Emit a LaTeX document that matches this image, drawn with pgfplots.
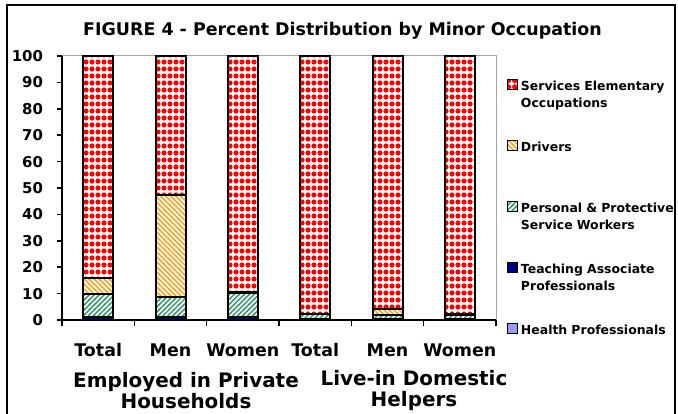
\documentclass[border=0pt]{standalone}
\usepackage{pgfplots}
\pgfplotsset{compat=1.18}
\usepackage{pgfplotstable}
\usepackage{fontspec}
\setmainfont{DejaVu Sans}
\usetikzlibrary{patterns}
\definecolor{cRed}{RGB}{255,0,0}
\definecolor{cOrange}{RGB}{255,160,20}
\definecolor{cGreen}{RGB}{51,150,102}
\definecolor{cNavy}{RGB}{0,0,128}
\definecolor{cLav}{RGB}{153,153,255}
\pgfdeclarepatternformonly{reddots}{\pgfqpoint{0pt}{0pt}}{\pgfqpoint{6.5pt}{6.5pt}}{\pgfqpoint{6.5pt}{6.5pt}}{%
  \pgfpathcircle{\pgfqpoint{3.25pt}{3.25pt}}{2.8pt}\pgfusepath{fill}}
\pgfdeclarepatternformonly{nwlines}{\pgfqpoint{-1pt}{-1pt}}{\pgfqpoint{6pt}{6pt}}{\pgfqpoint{5pt}{5pt}}{%
  \pgfsetlinewidth{1.4pt}\pgfpathmoveto{\pgfqpoint{-0.5pt}{5.5pt}}\pgfpathlineto{\pgfqpoint{5.5pt}{-0.5pt}}\pgfusepath{stroke}}
\pgfdeclarepatternformonly{nelines}{\pgfqpoint{-1pt}{-1pt}}{\pgfqpoint{6pt}{6pt}}{\pgfqpoint{5pt}{5pt}}{%
  \pgfsetlinewidth{1.4pt}\pgfpathmoveto{\pgfqpoint{-0.5pt}{-0.5pt}}\pgfpathlineto{\pgfqpoint{5.5pt}{5.5pt}}\pgfusepath{stroke}}
\pgfplotstableread{
x health teach personal drivers services
0 0.1 1.0 8.7 6.0 84.2
1 0.1 1.0 7.6 38.8 52.5
2 0.1 0.9 9.3 0.3 89.4
3 0.0 0.3 1.8 0.2 97.7
4 0.0 0.3 1.6 2.2 95.9
5 0.0 0.3 1.7 0.1 97.9
}\datatable
\begin{document}
\begin{tikzpicture}
\useasboundingbox (0bp,0bp) rectangle (678bp,414bp);
\draw[line width=2bp] (6.7bp,0bp) -- (6.7bp,409.3bp) -- (675bp,409.3bp) -- (675bp,0bp);
\begin{axis}[
  at={(62bp,94bp)}, anchor=south west,
  scale only axis, width=434bp, height=264bp,
  clip=false,
  ybar stacked, bar width=30bp,
  xmin=-0.5, xmax=5.5, ymin=0, ymax=100,
  axis line style={draw=none},
  tick align=outside,
  major tick length=5.5bp,
  xtick={-0.5,0.5,...,5.5}, xticklabels={},
  xtick pos=bottom, ytick pos=left,
  x tick style={line width=1.5bp, black},
  y tick style={line width=1.5bp, black},
  extra x ticks={0,1,2,3,4,5},
  extra x tick labels={Total,Men,Women,Total,Men,Women},
  extra x tick style={major tick length=0pt, tick style={draw=none}, xticklabel style={yshift=-20bp}},
  ytick={0,10,...,100},
  /pgf/number format/assume math mode=true,
  xticklabel style={font=\bfseries\fontsize{17.5}{20}\selectfont},
  yticklabel style={font=\bfseries\fontsize{15}{18}\selectfont, xshift=-10bp},
  legend image code/.code={\draw[#1, line width=1bp, draw=black] (0bp,1bp) rectangle (10bp,11bp);},
  reverse legend,
  legend cell align=left,
  legend style={at={(axis description cs:1.0253,0.9155)}, anchor=north west, draw=none, fill=none,
    inner sep=0pt, outer sep=0pt,
    font=\bfseries\fontsize{12.5}{17}\selectfont, row sep=9bp, column sep=3bp,
    cells={anchor=base west},
    nodes={inner sep=0pt, text width=160bp, align=left, text height=12bp, text depth=40bp}},
  every axis plot/.append style={draw=black, line width=2bp},
]
\addplot[fill=cLav] table[x=x, y=health] {\datatable};
\addlegendentry{Health Professionals}
\addplot[fill=cNavy] table[x=x, y=teach] {\datatable};
\addlegendentry{Teaching Associate\\Professionals}
\addplot[fill=white, postaction={pattern=nelines, pattern color=cGreen}] table[x=x, y=personal] {\datatable};
\addlegendentry{Personal \& Protective\\Service Workers}
\addplot[fill=white, postaction={pattern=nwlines, pattern color=cOrange}] table[x=x, y=drivers] {\datatable};
\addlegendentry{Drivers}
\addplot[fill=white, postaction={pattern=reddots, pattern color=cRed}] table[x=x, y=services] {\datatable};
\addlegendentry{Services Elementary\\Occupations}
\draw[gray!70, line width=1bp] (rel axis cs:0,1) -- (rel axis cs:1,1) -- (rel axis cs:1,0);
\draw[black, line width=2bp] (rel axis cs:0,1) -- (rel axis cs:0,0) -- (rel axis cs:1,0);
\node[font=\bfseries\fontsize{17.5}{20}\selectfont, anchor=base] at (axis description cs:0.6463,1.0795) {FIGURE 4 - Percent Distribution by Minor Occupation};
\node[font=\bfseries\fontsize{20}{21}\selectfont, align=center] at (axis description cs:0.2857,-0.2670) {Employed in Private\\Households};
\node[font=\bfseries\fontsize{20}{21}\selectfont, align=center] at (axis description cs:0.811,-0.2670) {Live-in Domestic\\Helpers};
\end{axis}
\end{tikzpicture}
\end{document}
